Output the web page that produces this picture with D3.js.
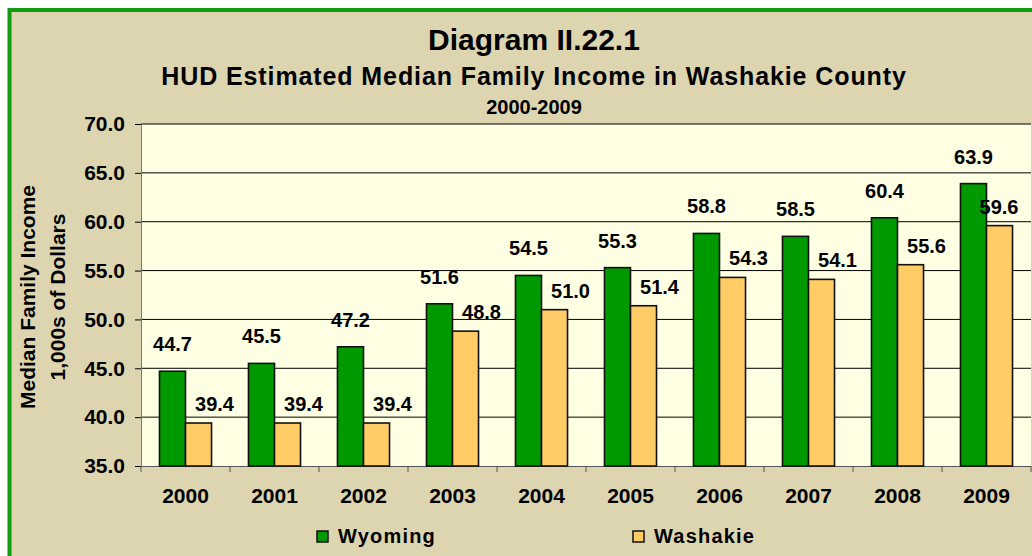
<!DOCTYPE html>
<html>
<head>
<meta charset="utf-8">
<script src="https://cdn.jsdelivr.net/npm/d3@7"></script>
<style>
  html, body { margin: 0; padding: 0; background: #ffffff; overflow: hidden; }
  text { font-family: "Liberation Sans", Arial, sans-serif; font-weight: bold; fill: #000; }
</style>
</head>
<body>
<div id="chart"></div>
<script>

// chart values
const years = ["2000", "2001", "2002", "2003", "2004", "2005", "2006", "2007", "2008", "2009"];
const seriesNames = ["Wyoming", "Washakie"];
const wyoming  = [44.7, 45.5, 47.2, 51.6, 54.5, 55.3, 58.8, 58.5, 60.4, 63.9];
const washakie = [39.4, 39.4, 39.4, 48.8, 51.0, 51.4, 54.3, 54.1, 55.6, 59.6];
const yTicks = [35, 40, 45, 50, 55, 60, 65, 70];

const titleText = "Diagram II.22.1";
const subtitleText = "HUD Estimated Median Family Income in Washakie County";
const periodText = "2000-2009";
const yTitleLines = ["Median Family Income", "1,000s of Dollars"];

// colours
const colors = { Wyoming: "#009900", Washakie: "#FFCC66" };

const W = 1032, H = 556;
const plot = { left: 141, right: 1031, top: 124, bottom: 466 };
const cx = 534;

const svg = d3.select("#chart").append("svg")
    .attr("width", W)
    .attr("height", H);

// chart background with green frame (runs off the right / bottom edge)
svg.append("rect")
    .attr("x", 9.5).attr("y", 10)
    .attr("width", 1060).attr("height", 580)
    .attr("fill", "#DCD5B0")
    .attr("stroke", "#129A12")
    .attr("stroke-width", 4);

// scales
const x0 = d3.scaleBand()
    .domain(years)
    .range([plot.left, plot.right])
    .padding(0);

const x1 = d3.scaleBand()
    .domain(seriesNames)
    .range([0, x0.bandwidth()])
    .paddingInner(0)
    .paddingOuter(0.71);

const y = d3.scaleLinear()
    .domain([35, 70])
    .range([plot.bottom, plot.top]);

// plot area
svg.append("rect")
    .attr("x", plot.left).attr("y", plot.top)
    .attr("width", plot.right - plot.left)
    .attr("height", plot.bottom - plot.top)
    .attr("fill", "#FFFFE3");

// gridlines
svg.append("g")
    .selectAll("line")
    .data(yTicks.filter(d => d > 35))
    .join("line")
    .attr("x1", plot.left).attr("x2", plot.right)
    .attr("y1", d => y(d)).attr("y2", d => y(d))
    .attr("stroke", "#000").attr("stroke-width", 1);

// y axis
const yAxis = svg.append("g")
    .attr("transform", `translate(${plot.left},0)`)
    .call(d3.axisLeft(y).tickValues(yTicks).tickFormat(d3.format(".1f")).tickSize(6).tickPadding(10));
yAxis.select(".domain").attr("stroke", "#777");
yAxis.selectAll(".tick line").attr("stroke", "#000");
yAxis.selectAll("text")
    .attr("font-size", 21)
    .attr("font-family", "Liberation Sans, Arial, sans-serif")
    .attr("font-weight", "bold")
    .attr("fill", "#000");

// x axis
const xAxis = svg.append("g")
    .attr("transform", `translate(0,${plot.bottom})`)
    .call(d3.axisBottom(x0).tickSize(0).tickPadding(22));
xAxis.select(".domain").attr("stroke", "#555");
xAxis.selectAll("text")
    .attr("font-size", 21)
    .attr("font-family", "Liberation Sans, Arial, sans-serif")
    .attr("font-weight", "bold")
    .attr("fill", "#000");

// tick marks between categories
svg.append("g")
    .selectAll("line")
    .data(d3.range(years.length + 1))
    .join("line")
    .attr("x1", i => plot.left + i * x0.step())
    .attr("x2", i => plot.left + i * x0.step())
    .attr("y1", plot.bottom).attr("y2", plot.bottom + 6)
    .attr("stroke", "#555");

// bars
const rows = years.map((yr, i) => ({ year: yr, values: [
    { year: yr, name: "Wyoming", value: wyoming[i] },
    { year: yr, name: "Washakie", value: washakie[i] }
]}));

const groups = svg.append("g")
    .selectAll("g")
    .data(rows)
    .join("g")
    .attr("transform", d => `translate(${x0(d.year)},0)`);

groups.selectAll("rect")
    .data(d => d.values)
    .join("rect")
    .attr("x", d => x1(d.name))
    .attr("y", d => y(d.value))
    .attr("width", x1.bandwidth())
    .attr("height", d => y(35) - y(d.value))
    .attr("fill", d => colors[d.name])
    .attr("stroke", "#111")
    .attr("stroke-width", 1.6);

// data labels (Washakie labels sit up and to the right of the bar,
// but never run past the plot's right edge)
groups.selectAll("text.lab")
    .data(d => d.values)
    .join("text")
    .attr("class", "lab")
    .attr("x", d => {
        const base = x1(d.name) + x1.bandwidth() / 2;
        if (d.name !== "Washakie") return base;
        const maxX = plot.right - 32 - x0(d.year);
        return Math.min(base + 16, maxX);
    })
    .attr("y", d => y(d.value) - (d.name === "Washakie" ? 12 : 20))
    .attr("text-anchor", "middle")
    .attr("font-size", 20)
    .text(d => d3.format(".1f")(d.value));

// titles
svg.append("text")
    .attr("x", cx).attr("y", 50)
    .attr("text-anchor", "middle")
    .attr("font-size", 30)
    .text(titleText);

svg.append("text")
    .attr("x", cx).attr("y", 85)
    .attr("text-anchor", "middle")
    .attr("font-size", 25)
    .attr("letter-spacing", 0.9)
    .text(subtitleText);

svg.append("text")
    .attr("x", cx).attr("y", 114)
    .attr("text-anchor", "middle")
    .attr("font-size", 20)
    .text(periodText);

// y axis title
const yTitle = svg.append("text")
    .attr("transform", "translate(0,297) rotate(-90)")
    .attr("text-anchor", "middle")
    .attr("font-size", 21);
yTitle.selectAll("tspan")
    .data(yTitleLines)
    .join("tspan")
    .attr("x", 0)
    .attr("y", (d, i) => 35 + i * 30)
    .text(d => d);

// legend
const legendX = [317, 633];
const legend = svg.append("g")
    .selectAll("g")
    .data(seriesNames)
    .join("g")
    .attr("transform", (d, i) => `translate(${legendX[i]},531)`);

legend.append("rect")
    .attr("width", 11).attr("height", 11)
    .attr("fill", d => colors[d])
    .attr("stroke", "#111")
    .attr("stroke-width", 1.5);

legend.append("text")
    .attr("x", 21).attr("y", 12)
    .attr("font-size", 20)
    .attr("letter-spacing", 1.2)
    .text(d => d);

</script>
</body>
</html>
